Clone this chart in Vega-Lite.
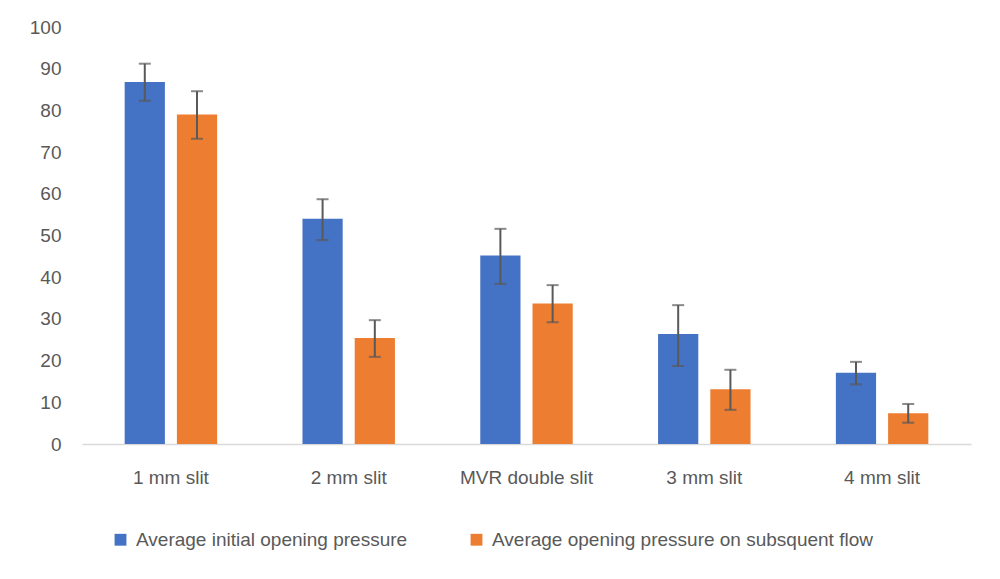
{
  "$schema": "https://vega.github.io/schema/vega-lite/v6.json",
  "autosize": "none",
  "width": 889,
  "height": 417,
  "padding": {"left": 82, "top": 27, "right": 29, "bottom": 135},
  "background": "white",
  "config": {
    "view": {"stroke": null},
    "font": "Liberation Sans",
    "axis": {"labelFont": "Liberation Sans", "labelColor": "#595959", "labelFontSize": 19}
  },
  "data": {
    "values": [
      {"slit": "1 mm slit", "series": "Average initial opening pressure", "value": 86.8, "lo": 82.3, "hi": 91.2},
      {"slit": "1 mm slit", "series": "Average opening pressure on subsquent flow", "value": 79.0, "lo": 73.2, "hi": 84.6},
      {"slit": "2 mm slit", "series": "Average initial opening pressure", "value": 54.0, "lo": 48.9, "hi": 58.7},
      {"slit": "2 mm slit", "series": "Average opening pressure on subsquent flow", "value": 25.4, "lo": 20.9, "hi": 29.7},
      {"slit": "MVR double slit", "series": "Average initial opening pressure", "value": 45.2, "lo": 38.4, "hi": 51.6},
      {"slit": "MVR double slit", "series": "Average opening pressure on subsquent flow", "value": 33.7, "lo": 29.2, "hi": 38.1},
      {"slit": "3 mm slit", "series": "Average initial opening pressure", "value": 26.4, "lo": 18.7, "hi": 33.3},
      {"slit": "3 mm slit", "series": "Average opening pressure on subsquent flow", "value": 13.1, "lo": 8.2, "hi": 17.8},
      {"slit": "4 mm slit", "series": "Average initial opening pressure", "value": 17.1, "lo": 14.3, "hi": 19.7},
      {"slit": "4 mm slit", "series": "Average opening pressure on subsquent flow", "value": 7.4, "lo": 5.1, "hi": 9.6}
    ]
  },
  "encoding": {
    "x": {
      "field": "slit",
      "type": "nominal",
      "sort": null,
      "title": null,
      "scale": {"paddingInner": 0.48, "paddingOuter": 0.24},
      "axis": {
        "labelAngle": 0,
        "ticks": false,
        "tickSize": 0,
        "labelPadding": 24,
        "domainColor": "#d9d9d9",
        "domainWidth": 1.5,
        "grid": false
      }
    },
    "xOffset": {
      "field": "series",
      "type": "nominal",
      "sort": null,
      "scale": {"paddingInner": 0.23, "paddingOuter": 0}
    }
  },
  "layer": [
    {
      "mark": {"type": "bar"},
      "encoding": {
        "y": {
          "field": "value",
          "type": "quantitative",
          "title": null,
          "scale": {"domain": [0, 100]},
          "axis": {
            "values": [0, 10, 20, 30, 40, 50, 60, 70, 80, 90, 100],
            "grid": false,
            "domain": false,
            "ticks": false,
            "tickSize": 0,
            "labelPadding": 21
          }
        },
        "color": {
          "field": "series",
          "type": "nominal",
          "sort": null,
          "title": null,
          "scale": {"range": ["#4472C4", "#ED7D31"]},
          "legend": {
            "orient": "none",
            "direction": "horizontal",
            "legendX": 29,
            "legendY": 503,
            "symbolType": "square",
            "symbolSize": 140,
            "symbolStrokeWidth": 0,
            "labelFont": "Liberation Sans",
            "labelFontSize": 19,
            "labelColor": "#595959",
            "labelOffset": 6,
            "labelLimit": 600,
            "columnPadding": 59
          }
        }
      }
    },
    {
      "mark": {"type": "rule", "color": "#595959", "strokeWidth": 2},
      "encoding": {
        "y": {"field": "lo", "type": "quantitative"},
        "y2": {"field": "hi"}
      }
    },
    {
      "mark": {"type": "tick", "orient": "horizontal", "size": 12, "thickness": 2, "color": "#595959"},
      "encoding": {
        "y": {"field": "lo", "type": "quantitative"}
      }
    },
    {
      "mark": {"type": "tick", "orient": "horizontal", "size": 12, "thickness": 2, "color": "#595959"},
      "encoding": {
        "y": {"field": "hi", "type": "quantitative"}
      }
    }
  ]
}
